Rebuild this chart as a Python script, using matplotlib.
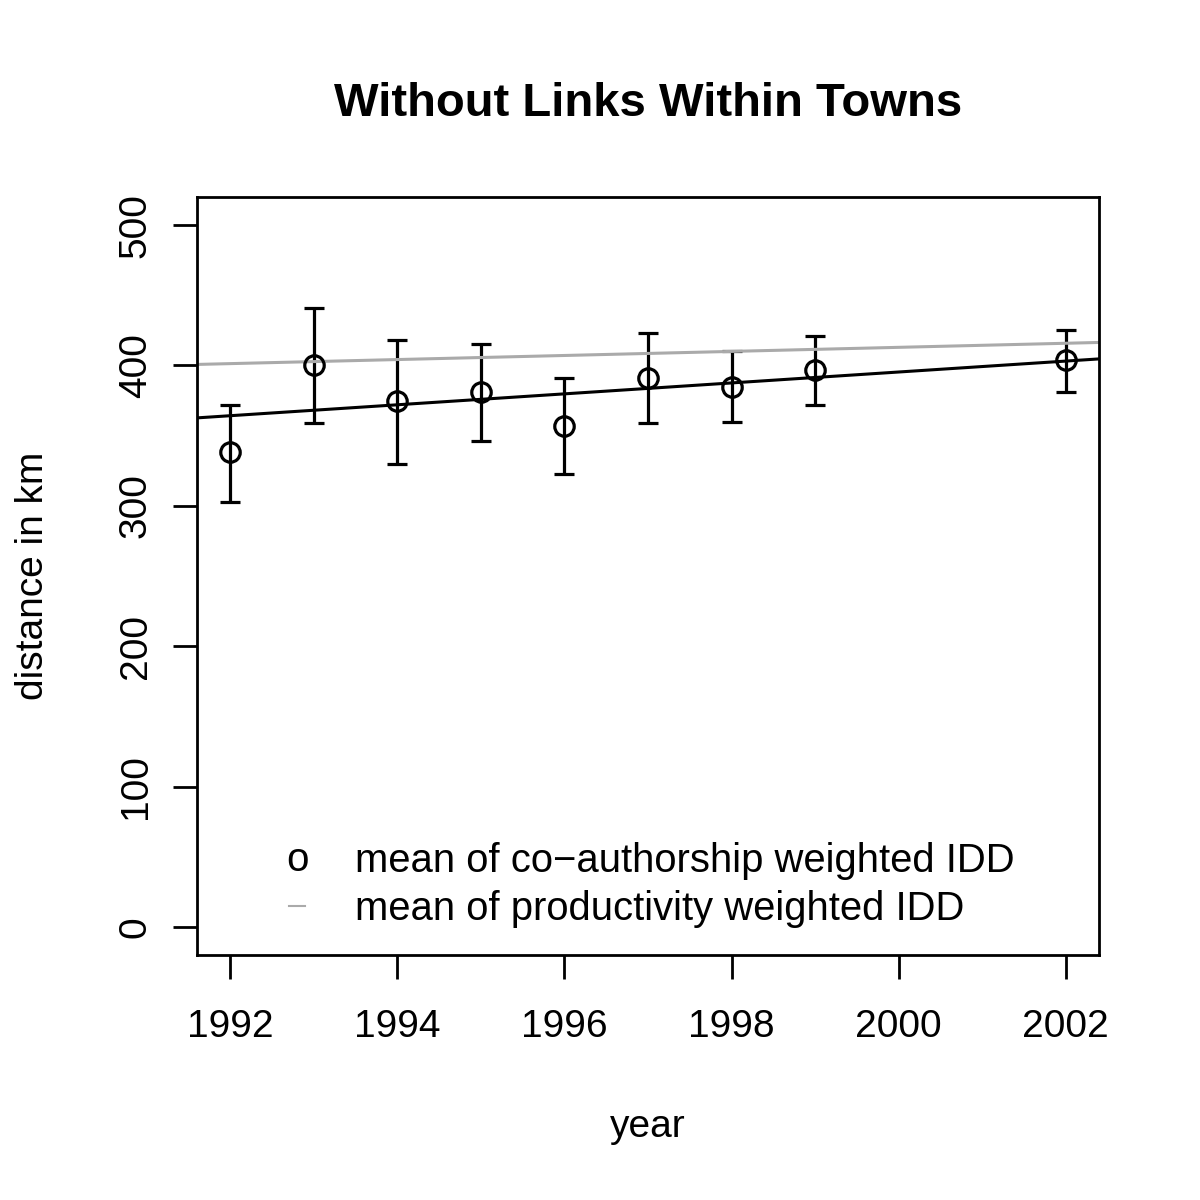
import numpy as np
import matplotlib
matplotlib.use('Agg')
import matplotlib.pyplot as plt

plt.rcParams['font.family'] = ['Liberation Sans', 'DejaVu Sans']

# co-authorship weighted IDD, means and error bar ends (km)
years = [1992, 1993, 1994, 1995, 1996, 1997, 1998, 1999, 2002]
means = [338, 400, 375, 381, 357, 391, 385, 397, 404]
upper = [372, 441, 418, 415, 391, 423, 410, 421, 425]
lower = [303, 359, 330, 346, 323, 359, 360, 372, 381]

# fitted trend lines (value at 1992 and at 2002)
trendYears = [1992, 2002]
coauthTrend = [364.2, 403.1]
prodTrend = [401.3, 415.8]

xtk = [1992, 1994, 1996, 1998, 2000, 2002]
ytk = [0, 100, 200, 300, 400, 500]

fig = plt.figure(figsize=(12, 12), dpi=100)
ax = fig.add_axes([197/1200, 1 - 955/1200, (1099-197)/1200, (955-197)/1200])

yerr = [np.array(means) - np.array(lower), np.array(upper) - np.array(means)]
ax.errorbar(years, means, yerr=yerr, fmt='o', color='black', mfc='none',
            mec='black', ms=14, mew=2.3, elinewidth=2.3, capsize=7.5, capthick=2.3)

ax.axline((trendYears[0], coauthTrend[0]), (trendYears[1], coauthTrend[1]),
          color='black', lw=2.2)
ax.axline((trendYears[0], prodTrend[0]), (trendYears[1], prodTrend[1]),
          color='#aaaaaa', lw=2.2)

ax.set_xlim(1991.6, 2002.4)
ax.set_ylim(-20, 520)
ax.set_xticks(xtk)
ax.set_yticks(ytk)
ax.set_xticklabels([str(v) for v in xtk], fontsize=28)
ax.set_yticklabels([str(v) for v in ytk], fontsize=28, rotation=90, va='center')
ax.tick_params(direction='out', length=17, width=2, pad=22)
ax.tick_params(axis='y', pad=14)
for s in ax.spines.values():
    s.set_linewidth(2)

ax.set_title('Without Links Within Towns', fontsize=34, fontweight='bold', pad=58)
ax.set_xlabel('year', fontsize=28, labelpad=46)
ax.set_ylabel('distance in km', fontsize=28, labelpad=48)

# legend without frame, symbols drawn as characters like in the original
fig.text(297/1200, 1 - 860/1200, 'o', fontsize=29, ha='center', va='center')
fig.text(355/1200, 1 - 861/1200, 'mean of co\u2212authorship weighted IDD',
         fontsize=28.8, va='center')
fig.text(355/1200, 1 - 909/1200, 'mean of productivity weighted IDD',
         fontsize=28.8, va='center')
ax.plot([0.102, 0.120], [0.065, 0.065], transform=ax.transAxes,
        color='#aaaaaa', lw=1.5)

fig.savefig('out.png', dpi=100)
